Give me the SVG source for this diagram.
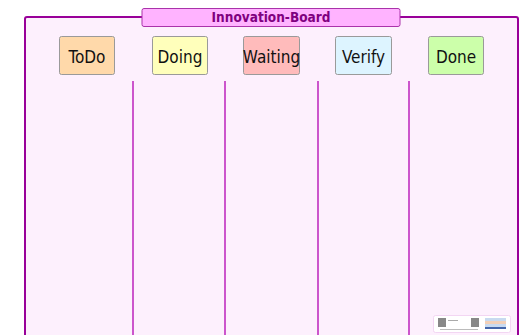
<svg xmlns="http://www.w3.org/2000/svg" width="527" height="335" viewBox="0 0 527 335">
<style>
.col rect{stroke:#9a9a9a;stroke-width:1}
.col text{font-family:"DejaVu Sans Condensed","DejaVu Sans",sans-serif;font-size:17px;fill:#111;text-anchor:middle}
.sep{stroke:#cc55cc;stroke-width:2}
</style>
<rect width="527" height="335" fill="#ffffff"/>
<g id="board">
<rect x="25" y="17" width="493" height="330" rx="2" fill="#fdf0fd" stroke="#990099" stroke-width="2"/>
</g>
<g id="title">
<rect x="142" y="8.5" width="258" height="18" rx="2" fill="#ffb3ff" stroke="#aa33aa" stroke-width="1"/>
<text x="271" y="22" font-family="'DejaVu Sans Condensed','DejaVu Sans',sans-serif" font-size="13.5" font-weight="bold" fill="#800080" text-anchor="middle">Innovation-Board</text>
</g>
<g id="connectors">
<line class="sep" x1="133" y1="81" x2="133" y2="335"/>
<line class="sep" x1="225" y1="81" x2="225" y2="335"/>
<line class="sep" x1="318" y1="81" x2="318" y2="335"/>
<line class="sep" x1="409" y1="81" x2="409" y2="335"/>
</g>
<g id="todo" class="col"><rect x="59.5" y="36.5" width="55" height="38" rx="2" fill="#ffd9aa"/><text x="87" y="62.5">ToDo</text></g>
<g id="doing" class="col"><rect x="152.5" y="36.5" width="55" height="38" rx="2" fill="#ffffbb"/><text x="180" y="62.5">Doing</text></g>
<g id="waiting" class="col"><rect x="243.5" y="36.5" width="56" height="38" rx="2" fill="#ffbbbb"/><text x="271.5" y="62.5">Waiting</text></g>
<g id="verify" class="col"><rect x="335.5" y="36.5" width="56" height="38" rx="2" fill="#ddf4ff"/><text x="363.5" y="62.5">Verify</text></g>
<g id="done" class="col"><rect x="428.5" y="36.5" width="55" height="38" rx="2" fill="#ccffaa"/><text x="456" y="62.5">Done</text></g>
<g id="logo">
<rect x="433.5" y="315.5" width="77" height="17" rx="2" fill="#ffffff" stroke="#f3d6f3" stroke-width="1"/>
<rect x="438" y="318" width="8" height="9" fill="#888"/>
<rect x="448" y="320" width="10" height="1" fill="#aaa"/>
<rect x="471" y="318" width="8" height="9" fill="#888"/>
<rect x="440" y="329" width="38" height="1" fill="#bbb"/>
<rect x="485" y="318" width="21" height="3" fill="#c8daf0"/>
<rect x="485" y="321" width="21" height="3" fill="#f2d0b8"/>
<rect x="485" y="324" width="21" height="3" fill="#c8daf0"/>
<rect x="485" y="327" width="21" height="2" fill="#4466aa"/>
</g>
</svg>
